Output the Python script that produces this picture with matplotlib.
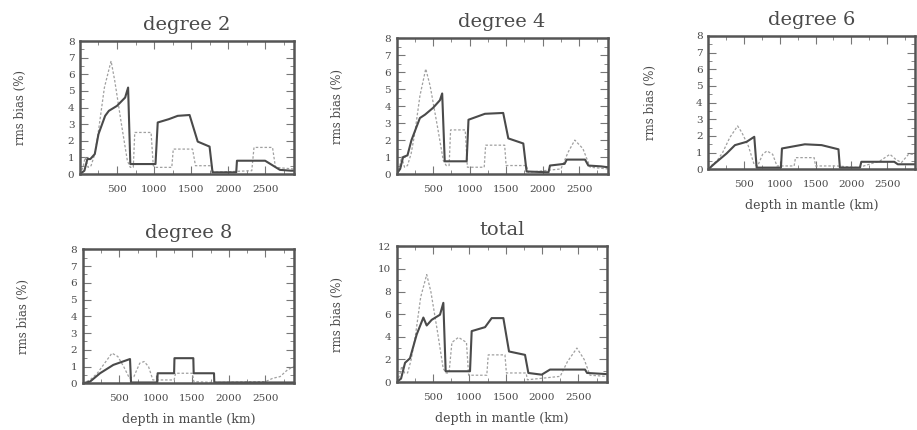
import numpy as np
import matplotlib
matplotlib.use("Agg")
import matplotlib.pyplot as plt
from matplotlib.ticker import MultipleLocator

plt.rcParams['font.family'] = ['DejaVu Serif']

# depth axis (km) and rms bias (%) for each harmonic degree
# solid = first model, dashed = second model
d2_solid_depth = [0, 60, 100, 140, 200, 250, 340, 390, 500, 610, 650, 680, 1020, 1050, 1200, 1320, 1480, 1590, 1750, 1790, 2110, 2120, 2500, 2700, 2850, 2890]
d2_solid = [0.0, 0.2, 0.9, 0.9, 1.2, 2.4, 3.5, 3.8, 4.1, 4.6, 5.2, 0.6, 0.6, 3.1, 3.3, 3.5, 3.55, 1.95, 1.65, 0.1, 0.1, 0.8, 0.8, 0.25, 0.2, 0.2]
d2_dash_depth = [0, 40, 70, 110, 150, 200, 250, 330, 420, 470, 560, 640, 680, 720, 740, 960, 990, 1020, 1240, 1260, 1520, 1560, 1780, 1800, 2320, 2350, 2600, 2640, 2890]
d2_dash = [0, 0.4, 1.0, 0.4, 0.5, 1.2, 2.6, 5.2, 6.8, 5.6, 3.0, 0.8, 0.4, 0.4, 2.5, 2.5, 0.5, 0.4, 0.4, 1.5, 1.5, 0.5, 0.5, 0.1, 0.2, 1.6, 1.6, 0.4, 0.3]

d4_solid_depth = [0, 50, 90, 150, 205, 320, 390, 500, 594, 625, 660, 960, 985, 1210, 1460, 1530, 1735, 1780, 2080, 2100, 2300, 2330, 2580, 2625, 2800, 2890]
d4_solid = [0, 0.3, 1.0, 1.1, 2.0, 3.3, 3.5, 3.9, 4.35, 4.75, 0.75, 0.75, 3.2, 3.55, 3.6, 2.1, 1.8, 0.15, 0.1, 0.5, 0.6, 0.85, 0.85, 0.5, 0.45, 0.4]
d4_dash_depth = [0, 40, 70, 110, 150, 200, 250, 320, 400, 460, 560, 640, 680, 720, 740, 940, 970, 1200, 1220, 1480, 1500, 1780, 1800, 2250, 2350, 2440, 2550, 2650, 2890]
d4_dash = [0, 0.4, 1.0, 0.4, 0.5, 1.2, 2.4, 4.6, 6.2, 5.2, 2.8, 0.8, 0.5, 0.5, 2.6, 2.6, 0.4, 0.4, 1.7, 1.7, 0.5, 0.5, 0.1, 0.3, 1.3, 2.0, 1.5, 0.4, 0.3]

d6_solid_depth = [0, 90, 256, 373, 536, 643, 676, 1016, 1030, 1350, 1585, 1820, 1840, 2120, 2140, 2600, 2650, 2890]
d6_solid = [0, 0.35, 0.95, 1.45, 1.65, 1.95, 0.1, 0.1, 1.25, 1.5, 1.45, 1.2, 0.1, 0.1, 0.45, 0.45, 0.3, 0.3]
d6_dash_depth = [0, 60, 120, 200, 300, 410, 470, 560, 640, 690, 760, 820, 900, 960, 1200, 1220, 1480, 1500, 1800, 2100, 2400, 2540, 2620, 2700, 2800, 2890]
d6_dash = [0, 0.3, 0.5, 1.0, 1.9, 2.6, 2.2, 1.4, 0.3, 0.2, 0.9, 1.1, 0.9, 0.2, 0.2, 0.7, 0.7, 0.2, 0.2, 0.1, 0.5, 0.9, 0.6, 0.4, 0.9, 0.9]

d8_solid_depth = [0, 100, 237, 419, 647, 661, 1020, 1025, 1250, 1255, 1513, 1518, 1796, 1800, 2890]
d8_solid = [0, 0.1, 0.6, 1.1, 1.45, 0.05, 0.05, 0.6, 0.6, 1.5, 1.5, 0.6, 0.6, 0.05, 0.05]
d8_dash_depth = [0, 100, 200, 300, 400, 480, 560, 640, 700, 780, 840, 900, 960, 1250, 1270, 1500, 1520, 1800, 2500, 2600, 2700, 2800, 2890]
d8_dash = [0, 0.2, 0.6, 1.2, 1.8, 1.6, 1.0, 0.3, 0.4, 1.2, 1.3, 1.0, 0.2, 0.2, 0.6, 0.6, 0.1, 0.05, 0.1, 0.3, 0.4, 0.8, 1.0]

tot_solid_depth = [0, 60, 115, 183, 275, 367, 413, 482, 596, 642, 674, 1009, 1032, 1216, 1307, 1468, 1546, 1766, 1812, 1995, 2110, 2592, 2620, 2890]
tot_solid = [0, 0.3, 1.7, 2.1, 4.2, 5.7, 5.0, 5.5, 5.95, 7.0, 0.95, 0.95, 4.5, 4.85, 5.65, 5.65, 2.7, 2.4, 0.8, 0.65, 1.1, 1.1, 0.8, 0.7]
tot_dash_depth = [0, 40, 70, 110, 150, 200, 260, 330, 413, 470, 560, 640, 680, 720, 760, 850, 960, 990, 1240, 1260, 1490, 1510, 1780, 1800, 2250, 2350, 2480, 2580, 2660, 2890]
tot_dash = [0, 0.6, 1.4, 0.8, 0.8, 2.0, 4.2, 7.5, 9.5, 8.0, 4.5, 1.2, 0.8, 0.8, 3.5, 3.95, 3.5, 0.6, 0.6, 2.4, 2.4, 0.8, 0.8, 0.2, 0.5, 1.8, 3.0, 2.0, 0.6, 0.5]

x_ticks = [500, 1000, 1500, 2000, 2500]
cmb = 2890

txt = '#4a4a4a'
fig = plt.figure(figsize=(9.17, 4.30), dpi=100)


def panel(rect, title, sd, sv, dd, dv, ymax, ystep, yminor, xlabel=False):
    ax = fig.add_axes(rect)
    ax.plot(dd, dv, color='#a0a0a0', lw=0.9, ls=(0, (2, 1.5)))
    ax.plot(sd, sv, color='#4a4a4a', lw=1.5)
    ax.set_xlim(0, cmb)
    ax.set_ylim(0, ymax)
    ax.set_xticks(x_ticks)
    ax.xaxis.set_minor_locator(MultipleLocator(250))
    ax.yaxis.set_major_locator(MultipleLocator(ystep))
    ax.yaxis.set_minor_locator(MultipleLocator(yminor))
    ax.tick_params(which='both', direction='in', top=True, right=True,
                   colors='#777777', labelcolor=txt, labelsize=7.5)
    ax.tick_params(which='major', length=6, width=0.8)
    ax.tick_params(which='minor', length=3, width=0.6)
    ax.tick_params(axis='x', pad=8)
    ax.tick_params(axis='y', pad=4)
    for s in ax.spines.values():
        s.set_linewidth(1.8)
        s.set_color('#555555')
    ax.set_title(title, fontsize=14, color=txt, pad=8)
    ax.set_ylabel('rms bias (%)', fontsize=8.5, color=txt)
    ax.yaxis.set_label_coords(-0.25, 0.5)
    if xlabel:
        ax.set_xlabel('depth in mantle (km)', fontsize=9, color=txt)
        ax.xaxis.set_label_coords(0.5, -0.22)
    return ax


panel([0.0872, 0.5953, 0.2334, 0.3093], 'degree 2', d2_solid_depth, d2_solid, d2_dash_depth, d2_dash, 8, 1, 0.5)
panel([0.4324, 0.5953, 0.2303, 0.3156], 'degree 4', d4_solid_depth, d4_solid, d4_dash_depth, d4_dash, 8, 1, 0.5)
panel([0.7724, 0.6063, 0.2254, 0.3100], 'degree 6', d6_solid_depth, d6_solid, d6_dash_depth, d6_dash, 8, 1, 0.5, xlabel=True)
panel([0.0902, 0.1086, 0.2304, 0.3116], 'degree 8', d8_solid_depth, d8_solid, d8_dash_depth, d8_dash, 8, 1, 0.5, xlabel=True)
panel([0.4326, 0.1116, 0.2290, 0.3156], 'total', tot_solid_depth, tot_solid, tot_dash_depth, tot_dash, 12, 2, 1, xlabel=True)

plt.savefig('out.png', dpi=100)
